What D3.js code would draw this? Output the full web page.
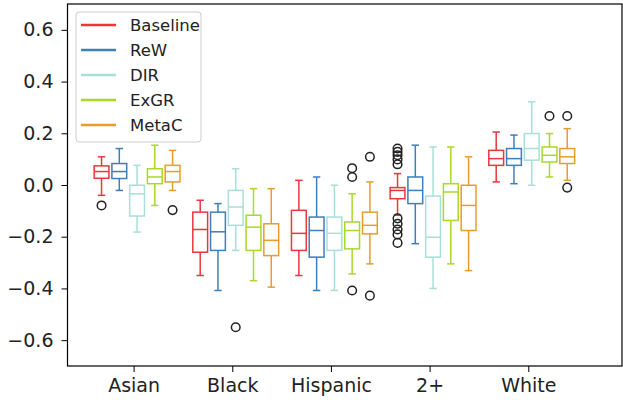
<!DOCTYPE html>
<html><head><meta charset="utf-8">
<script src="https://cdn.jsdelivr.net/npm/d3@7"></script>
<style>html,body{margin:0;padding:0;background:#fff;}svg{display:block;font-family:"DejaVu Sans",sans-serif;}</style>
</head><body>
<svg id="chart" width="623" height="404"></svg>
<script>
const categories = ["Asian", "Black", "Hispanic", "2+", "White"];
const methods = ["Baseline", "ReW", "DIR", "ExGR", "MetaC"];
const colors = ["#e8383d", "#3c7fbd", "#a8dfd6", "#a8d829", "#e79c2e"];
const yTicks = [-0.6, -0.4, -0.2, 0.0, 0.2, 0.4, 0.6];

// [whisker low, Q1, median, Q3, whisker high] per category
const baselineStats = [
  [-0.040, 0.026, 0.052, 0.074, 0.109],
  [-0.350, -0.260, -0.172, -0.105, -0.059],
  [-0.350, -0.253, -0.187, -0.098, 0.018],
  [-0.117, -0.053, -0.021, -0.010, 0.044],
  [0.012, 0.076, 0.102, 0.134, 0.205]
];
const rewStats = [
  [-0.021, 0.025, 0.052, 0.083, 0.141],
  [-0.408, -0.253, -0.181, -0.105, -0.072],
  [-0.408, -0.279, -0.176, -0.124, 0.031],
  [-0.227, -0.072, -0.021, 0.031, 0.154],
  [0.005, 0.076, 0.102, 0.141, 0.193]
];
const dirStats = [
  [-0.182, -0.120, -0.034, -0.001, 0.076],
  [-0.253, -0.156, -0.085, -0.021, 0.063],
  [-0.408, -0.253, -0.187, -0.124, -0.001],
  [-0.400, -0.279, -0.202, -0.043, 0.147],
  [-0.001, 0.096, 0.141, 0.199, 0.322]
];
const exgrStats = [
  [-0.079, 0.005, 0.031, 0.063, 0.154],
  [-0.370, -0.253, -0.163, -0.117, -0.014],
  [-0.344, -0.247, -0.176, -0.143, -0.034],
  [-0.305, -0.137, -0.027, 0.005, 0.147],
  [0.031, 0.089, 0.115, 0.147, 0.199]
];
const metacStats = [
  [-0.021, 0.012, 0.052, 0.076, 0.134],
  [-0.395, -0.273, -0.214, -0.150, -0.014],
  [-0.305, -0.189, -0.156, -0.105, 0.012],
  [-0.331, -0.176, -0.079, -0.001, 0.109],
  [0.018, 0.083, 0.109, 0.141, 0.218]
];
// outliers per category
const baselineOut = [[-0.079], [], [], [0.141, 0.128, 0.115, 0.099, 0.080, -0.129, -0.150, -0.172, -0.191, -0.224], []];
const rewOut = [[], [], [], [], []];
const dirOut = [[], [-0.550], [], [], []];
const exgrOut = [[], [], [0.065, 0.031, -0.408], [], [0.267]];
const metacOut = [[-0.097], [], [0.109, -0.428], [], [0.267, -0.010]];

const allStats = [baselineStats, rewStats, dirStats, exgrStats, metacStats];
const allOut = [baselineOut, rewOut, dirOut, exgrOut, metacOut];

const svg = d3.select("#chart");
const L = 67.5, R = 622, T = 4, B = 366;
const x = d3.scaleLinear().domain([-0.67, 4.95]).range([L, R]);
const y = d3.scaleLinear().domain([-0.7, 0.7]).range([B, T]);
const offset = 0.18, bw = 0.15, shift = 0.035;

const g = svg.append("g");
allStats.forEach((stats, j) => {
  stats.forEach((s, i) => {
    const cx = i + shift + (j - 2) * offset;
    const x0 = x(cx - bw / 2), x1 = x(cx + bw / 2), xc = x(cx);
    const c0 = x(cx - bw / 4), c1 = x(cx + bw / 4);
    const gg = g.append("g").attr("stroke", colors[j]).attr("stroke-width", 1.5).attr("fill", "none");
    gg.append("line").attr("x1", xc).attr("x2", xc).attr("y1", y(s[0])).attr("y2", y(s[1]));
    gg.append("line").attr("x1", xc).attr("x2", xc).attr("y1", y(s[3])).attr("y2", y(s[4]));
    gg.append("line").attr("x1", c0).attr("x2", c1).attr("y1", y(s[0])).attr("y2", y(s[0]));
    gg.append("line").attr("x1", c0).attr("x2", c1).attr("y1", y(s[4])).attr("y2", y(s[4]));
    gg.append("rect").attr("x", x0).attr("width", x1 - x0).attr("y", y(s[3])).attr("height", y(s[1]) - y(s[3]));
    gg.append("line").attr("x1", x0).attr("x2", x1).attr("y1", y(s[2])).attr("y2", y(s[2]));
    allOut[j][i].forEach(v => {
      g.append("circle").attr("cx", xc).attr("cy", y(v)).attr("r", 4.3)
        .attr("fill", "none").attr("stroke", "#222").attr("stroke-width", 1.5);
    });
  });
});

// axes
const xAxis = d3.axisBottom(x).tickValues(d3.range(categories.length)).tickFormat(i => categories[i]).tickSize(6).tickPadding(7);
const yAxis = d3.axisLeft(y).tickValues(yTicks).tickFormat(d => d3.format(".1f")(d).replace("-", "\u2212")).tickSize(6).tickPadding(8);
const gx = svg.append("g").attr("transform", `translate(0,${B})`).call(xAxis);
const gy = svg.append("g").attr("transform", `translate(${L},0)`).call(yAxis);
[gx, gy].forEach(a => {
  a.select(".domain").remove();
  a.selectAll("line").attr("stroke", "#000").attr("stroke-width", 1);
  a.selectAll("text").attr("font-size", 19).attr("fill", "#222").attr("font-family", "DejaVu Sans");
});
svg.append("rect").attr("x", L).attr("y", T).attr("width", R - L).attr("height", B - T)
  .attr("fill", "none").attr("stroke", "#000").attr("stroke-width", 1.2);

// legend
const lg = svg.append("g");
lg.append("rect").attr("x", 76).attr("y", 12).attr("width", 125).attr("height", 130).attr("rx", 3)
  .attr("fill", "#fff").attr("fill-opacity", 0.8).attr("stroke", "#cccccc");
methods.forEach((m, j) => {
  const yy = 25 + j * 25;
  lg.append("line").attr("x1", 81).attr("x2", 116).attr("y1", yy).attr("y2", yy)
    .attr("stroke", colors[j]).attr("stroke-width", 2.5);
  lg.append("text").attr("x", 130).attr("y", yy).attr("dy", "0.35em").attr("font-size", 16.5)
    .attr("fill", "#222").text(m);
});
</script>
</body></html>
